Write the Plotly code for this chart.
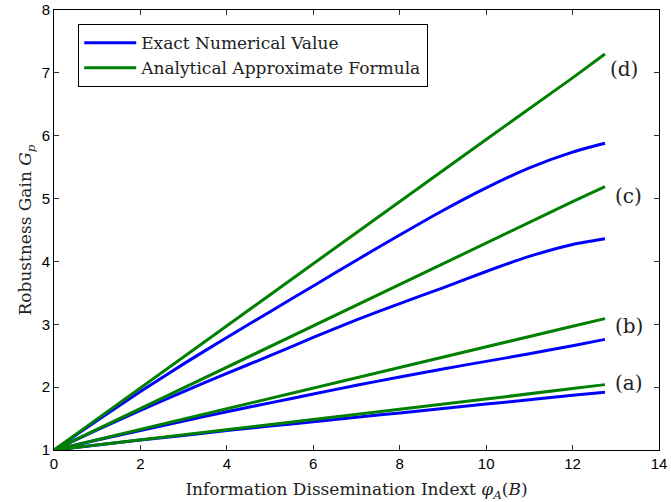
import plotly.graph_objects as go

# x grid for the exact numerical curves
x_exact = [0, 1, 2, 3, 4, 5, 6, 7, 8, 9, 10, 11, 12, 12.75]
blue_a = [1, 1.08, 1.16, 1.23, 1.31, 1.38, 1.45, 1.52, 1.59, 1.66, 1.73, 1.80, 1.87, 1.92]
blue_b = [1, 1.16, 1.31, 1.46, 1.61, 1.75, 1.89, 2.03, 2.16, 2.29, 2.41, 2.53, 2.66, 2.76]
blue_c = [1, 1.32, 1.63, 1.93, 2.22, 2.50, 2.79, 3.07, 3.33, 3.58, 3.84, 4.08, 4.27, 4.36]
blue_d = [1, 1.47, 1.93, 2.37, 2.79, 3.20, 3.61, 4.02, 4.42, 4.81, 5.17, 5.49, 5.74, 5.88]

# x grid for the analytical approximations
x_approx = [0, 2, 4, 6, 8, 10, 12, 12.75]
green_a = [1, 1.16, 1.33, 1.49, 1.65, 1.81, 1.98, 2.04]
green_b = [1, 1.33, 1.66, 1.99, 2.31, 2.64, 2.97, 3.09]
green_c = [1, 1.66, 2.32, 2.97, 3.63, 4.29, 4.95, 5.19]
green_d = [1, 1.99, 2.98, 3.97, 4.96, 5.94, 6.92, 7.30]

case_labels = ["(a)", "(b)", "(c)", "(d)"]
case_label_x = [13.3, 13.3, 13.3, 13.2]
case_label_y = [2.06, 2.98, 5.04, 7.06]

BLUE = "#0000FF"
GREEN = "#008000"
SERIF = "DejaVu Serif, Liberation Serif, serif"
SANS = "Liberation Sans, Arial, sans-serif"

fig = go.Figure()
for i, ys in enumerate([blue_a, blue_b, blue_c, blue_d]):
    fig.add_trace(go.Scatter(x=x_exact, y=ys, mode="lines",
                             line=dict(color=BLUE, width=3, shape="spline", smoothing=0.6),
                             name="Exact Numerical Value",
                             showlegend=(i == 0), legendrank=1))
for i, ys in enumerate([green_a, green_b, green_c, green_d]):
    fig.add_trace(go.Scatter(x=x_approx, y=ys, mode="lines",
                             line=dict(color=GREEN, width=3),
                             name="Analytical Approximate Formula",
                             showlegend=(i == 0), legendrank=2))

for lab, lx, ly in zip(case_labels, case_label_x, case_label_y):
    fig.add_annotation(x=lx, y=ly, text=lab, showarrow=False,
                       font=dict(family=SERIF, size=20, color="#222"))

axis_common = dict(showline=True, linecolor="black", linewidth=1, mirror="allticks",
                   ticks="inside", ticklen=5, tickcolor="#333", showgrid=False,
                   zeroline=False, automargin=False, ticklabeloverflow="allow",
                   tickfont=dict(family=SANS, size=15, color="black"))

fig.update_layout(
    width=671, height=502,
    margin=dict(l=54, r=12, t=10, b=52),
    paper_bgcolor="white", plot_bgcolor="white",
    xaxis=dict(range=[0, 14], dtick=2, **axis_common,
               title=dict(text="Information Dissemination Indext <i>φ</i><sub><i>A</i></sub>(<i>B</i>)",
                          font=dict(family=SERIF, size=17, color="#222"), standoff=16)),
    yaxis=dict(range=[1, 8], dtick=1, **axis_common,
               title=dict(text="Robustness Gain <i>G</i><sub><i>p</i></sub>",
                          font=dict(family=SERIF, size=17, color="#222"), standoff=5)),
    legend=dict(x=0.04, y=0.968, xanchor="left", yanchor="top",
                bgcolor="white", bordercolor="black", borderwidth=1,
                font=dict(family=SERIF, size=17, color="#222"),
                tracegroupgap=0, itemwidth=52),
)

fig.write_html("out.html", config={"displayModeBar": False},
               post_script="document.body.style.margin='0';")
